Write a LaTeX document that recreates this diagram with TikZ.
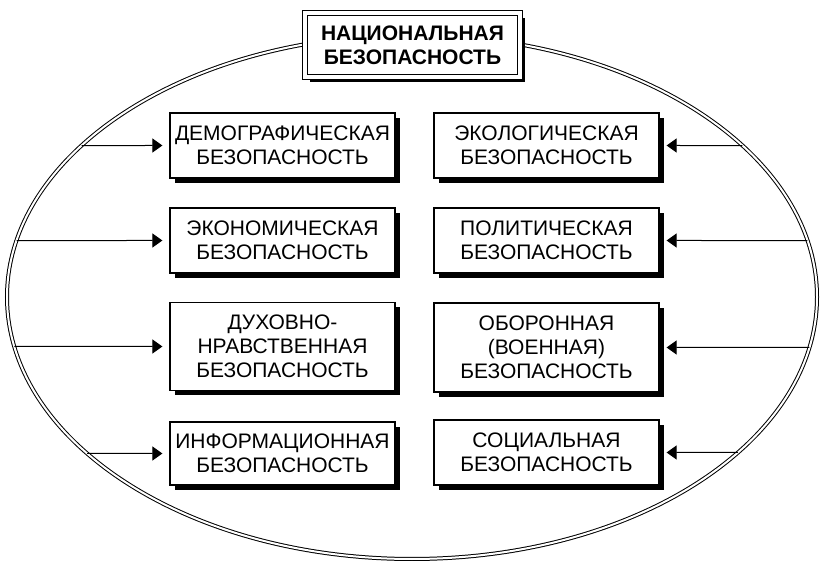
\documentclass[tikz,border=0pt]{standalone}
\usepackage{fontspec}
\setmainfont{Liberation Sans}
\usetikzlibrary{calc,shadows,arrows.meta}

\begin{document}
\begin{tikzpicture}[x=0.5pt, y=-0.5pt,
    secbox/.style={draw, fill=white, line width=0.6pt, align=center, inner sep=0pt,
        font=\fontsize{10.5}{12}\selectfont, minimum width=112.5pt,
        drop shadow={shadow xshift=2.5pt, shadow yshift=-2.5pt, opacity=1, fill=black}},
    titlebox/.style={draw, double, double distance=2pt, line width=0.6pt, fill=white,
        align=center, inner sep=0pt, font=\fontsize{10.5}{12}\selectfont\bfseries,
        minimum width=107.5pt, minimum height=32pt,
        drop shadow={shadow xshift=2.5pt, shadow yshift=-2.5pt, opacity=1, fill=black}},
    feed/.style={-{Triangle[length=5pt, width=7pt]}, line width=0.5pt, shorten >=3.5pt}]
    \useasboundingbox (0,0) rectangle (820,561);

    % outer ellipse
    \draw[double, double distance=1pt, line width=0.5pt] (412,297) ellipse [x radius=405, y radius=262];

    % left column
    \foreach \name/\y/\h/\txt in {dem/145.5/32.5/{ДЕМОГРАФИЧЕСКАЯ\\БЕЗОПАСНОСТЬ},
                                  eco/240.5/32.5/{ЭКОНОМИЧЕСКАЯ\\БЕЗОПАСНОСТЬ},
                                  duh/346.5/44/{ДУХОВНО-\\НРАВСТВЕННАЯ\\БЕЗОПАСНОСТЬ},
                                  inf/453.5/31.5/{ИНФОРМАЦИОННАЯ\\БЕЗОПАСНОСТЬ}} {
        \pgfmathsetmacro{\a}{180 - asin((\y - 297)/262)}
        \coordinate (e\name) at ($(412,297) + (\a:405 and 262)$);
        \node[secbox, minimum height=\h pt] (\name) at (282.5,\y) {\txt};
        \draw[feed] (e\name) -- (\name.west);
    }

    % right column
    \foreach \name/\y/\h/\txt in {ekol/145.5/32.5/{ЭКОЛОГИЧЕСКАЯ\\БЕЗОПАСНОСТЬ},
                                  pol/240.5/32.5/{ПОЛИТИЧЕСКАЯ\\БЕЗОПАСНОСТЬ},
                                  obor/347.5/44.5/{ОБОРОННАЯ\\(ВОЕННАЯ)\\БЕЗОПАСНОСТЬ},
                                  soc/452.5/32.5/{СОЦИАЛЬНАЯ\\БЕЗОПАСНОСТЬ}} {
        \pgfmathsetmacro{\a}{asin((\y - 297)/262)}
        \coordinate (e\name) at ($(412,297) + (\a:405 and 262)$);
        \node[secbox, minimum height=\h pt] (\name) at (546.5,\y) {\txt};
        \draw[feed] (e\name) -- (\name.east);
    }

    % title
    \node[titlebox] (nat) at (412.5,45) {НАЦИОНАЛЬНАЯ\\БЕЗОПАСНОСТЬ};
\end{tikzpicture}
\end{document}
